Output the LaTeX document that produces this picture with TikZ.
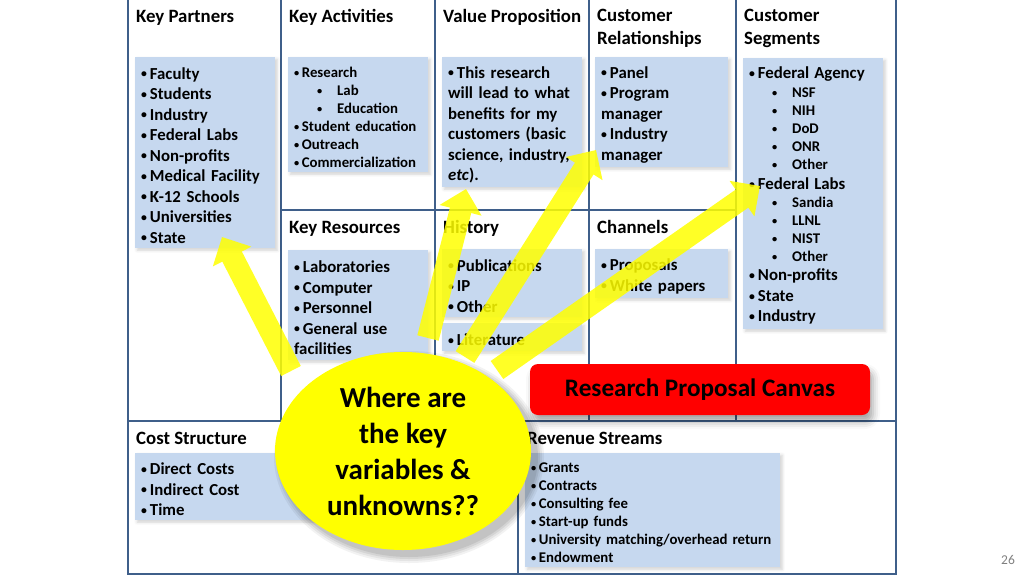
\documentclass[tikz,border=0pt]{standalone}
\usepackage{fontspec}
\setmainfont{Carlito}
\usetikzlibrary{arrows.meta,shadows.blur,shapes.geometric}

\definecolor{canvasblue}{HTML}{3F5F8A}
\definecolor{itemblue}{HTML}{C6D8EF}
\definecolor{hilite}{HTML}{FFFF00}
\definecolor{titlered}{HTML}{FF0000}
\definecolor{pagegray}{HTML}{7F7F7F}

\newcommand{\listfont}{\fontsize{16.8}{20.5}\selectfont\bfseries}
\newcommand{\smallfont}{\fontsize{14.8}{18}\selectfont\bfseries}
\newcommand{\headfont}{\fontsize{18.8}{23}\selectfont\bfseries}
\newcommand{\bulletdot}{\raisebox{0.07em}{\scalebox{0.7}{\textbullet}}}
\newcommand{\bul}{\makebox[0.52em][l]{\bulletdot}}
\newcommand{\subbul}{\hspace*{23pt}\makebox[20pt][l]{\bulletdot}}

\tikzset{
  canvasline/.style={draw=canvasblue, line width=2pt},
  listbox/.style 2 args={fill=itemblue, anchor=north west, inner xsep=6pt,
    inner ysep=0pt, align=left, text width={#1-12}, minimum height=#2,
    font=\listfont, execute at begin node={\rule{0pt}{1em}},
    blur shadow={shadow xshift=2pt, shadow yshift=-2pt, shadow opacity=18,
      shadow blur radius=3pt}},
  heading/.style={anchor=north west, inner sep=0pt, align=left,
    font=\headfont, execute at begin node={\rule{0pt}{13.5pt}}},
  pointer/.style={draw=hilite, line width=22pt,
    -{Triangle[length=22pt, width=42pt]}}
}

\begin{document}
\begin{tikzpicture}[x=1pt, y=-1pt]
\useasboundingbox (0,0) rectangle (1024,575);

% canvas
\draw[canvasline] (128,0) -- (128,574) -- (896,574) -- (896,0);
\draw[canvasline] (128,421) -- (896,421);
\draw[canvasline] (281,0) -- (281,421);
\draw[canvasline] (435,0) -- (435,421);
\draw[canvasline] (589,0) -- (589,421);
\draw[canvasline] (736,0) -- (736,421);
\draw[canvasline] (281,210) -- (736,210);
\draw[canvasline] (518,421) -- (518,574);

% headings
\node[heading] (hkp) at (136,8.5) {Key Partners};
\node[heading] (hka) at (289,8.5) {Key Activities};
\node[heading] (hvp) at (443,8.5) {Value Proposition};
\node[heading] (hcr) at (597,8.5) {Customer\\Relationships};
\node[heading] (hcs) at (744,8.5) {Customer\\Segments};
\node[heading] (hkr) at (289,219.5) {Key Resources};
\node[heading] (hhi) at (443,219.5) {History};
\node[heading] (hch) at (597,219.5) {Channels};
\node[heading] (hco) at (136,430.5) {Cost Structure};
\node[heading] (hrs) at (527,430.5) {Revenue Streams};

% item boxes
\node[listbox={140}{191}] (kp) at (135,57) {\bul Faculty\\\bul Students\\\bul Industry\\\bul Federal Labs\\\bul Non-profits\\\bul Medical Facility\\\bul K-12 Schools\\\bul Universities\\\bul State};
\node[listbox={140}{115}, font=\smallfont] (ka) at (288,57) {\bul Research\\\subbul Lab\\\subbul Education\\\bul Student education\\\bul Outreach\\\bul Commercialization};
\node[listbox={140}{130}] (vp) at (442,57) {\bul This research\\will lead to what\\benefits for my\\customers (basic\\science, industry,\\\textit{etc}).};
\node[listbox={133}{110}] (cr) at (595,57) {\bul Panel\\\bul Program\\manager\\\bul Industry\\manager};
\node[listbox={140}{271}, font=\smallfont] (cs) at (743,58) {{\listfont\bul Federal Agency}\\[1pt]\subbul NSF\\\subbul NIH\\\subbul DoD\\\subbul ONR\\\subbul Other\\[2pt]{\listfont\bul Federal Labs}\\\subbul Sandia\\\subbul LLNL\\\subbul NIST\\\subbul Other\\[1pt]{\listfont\bul Non-profits}\\[3pt]{\listfont\bul State}\\[2pt]{\listfont\bul Industry}};
\node[listbox={140}{110}] (kr) at (288,250) {\bul Laboratories\\\bul Computer\\\bul Personnel\\\bul General use\\facilities};
\node[listbox={140}{68}] (hi) at (442,249) {\bul Publications\\\bul IP\\\bul Other};
\node[listbox={140}{28}] (lit) at (442,323) {\bul Literature};
\node[listbox={133}{49}] (ch) at (595,249) {\bul Proposals\\\bul White papers};
\node[listbox={182}{67}] (co) at (135,453) {\bul Direct Costs\\\bul Indirect Cost\\\bul Time};
\node[listbox={255}{114}, font=\smallfont] (rs) at (525,453) {\bul Grants\\\bul Contracts\\\bul Consulting fee\\\bul Start-up funds\\\bul University matching/overhead return\\\bul Endowment};

% arrows out of the bubble
\coordinate (b1) at (291,371);
\coordinate (t1) at (222,237);
\coordinate (b2) at (428,338);
\coordinate (t2) at (466,189);
\coordinate (b3) at (465,357);
\coordinate (t3) at (596,150);
\coordinate (b4) at (497,370);
\coordinate (t4) at (760,186);
\begin{scope}[transparency group, opacity=.85]
\draw[pointer] (b1) -- (t1);
\draw[pointer] (b2) -- (t2);
\draw[pointer] (b3) -- (t3);
\draw[pointer] (b4) -- (t4);
\end{scope}

% bubble, with a soft shadow
\foreach \r/\o in {7/.05,5/.06,3/.07,1/.08}
  \fill[black, opacity=\o] (409,457) ellipse [x radius=128+\r, y radius=99+\r];
\node[ellipse, fill=hilite, minimum width=256pt, minimum height=198pt,
  align=center, font=\fontsize{29}{36}\selectfont\bfseries] (q) at (403,451)
  {Where are\\the key\\variables \&\\unknowns??};

% title
\node[fill=titlered, rounded corners=8pt, minimum width=340pt,
  minimum height=51pt, font=\fontsize{25.2}{30}\selectfont\bfseries,
  text=black,
  blur shadow={shadow xshift=3pt, shadow yshift=-7pt, shadow opacity=35,
    shadow blur radius=7pt}] (title) at (700,389.5) {Research Proposal Canvas};

\node[font=\fontsize{13.5}{16}\selectfont, text=pagegray] (pg) at (1008,560) {26};
\end{tikzpicture}
\end{document}
